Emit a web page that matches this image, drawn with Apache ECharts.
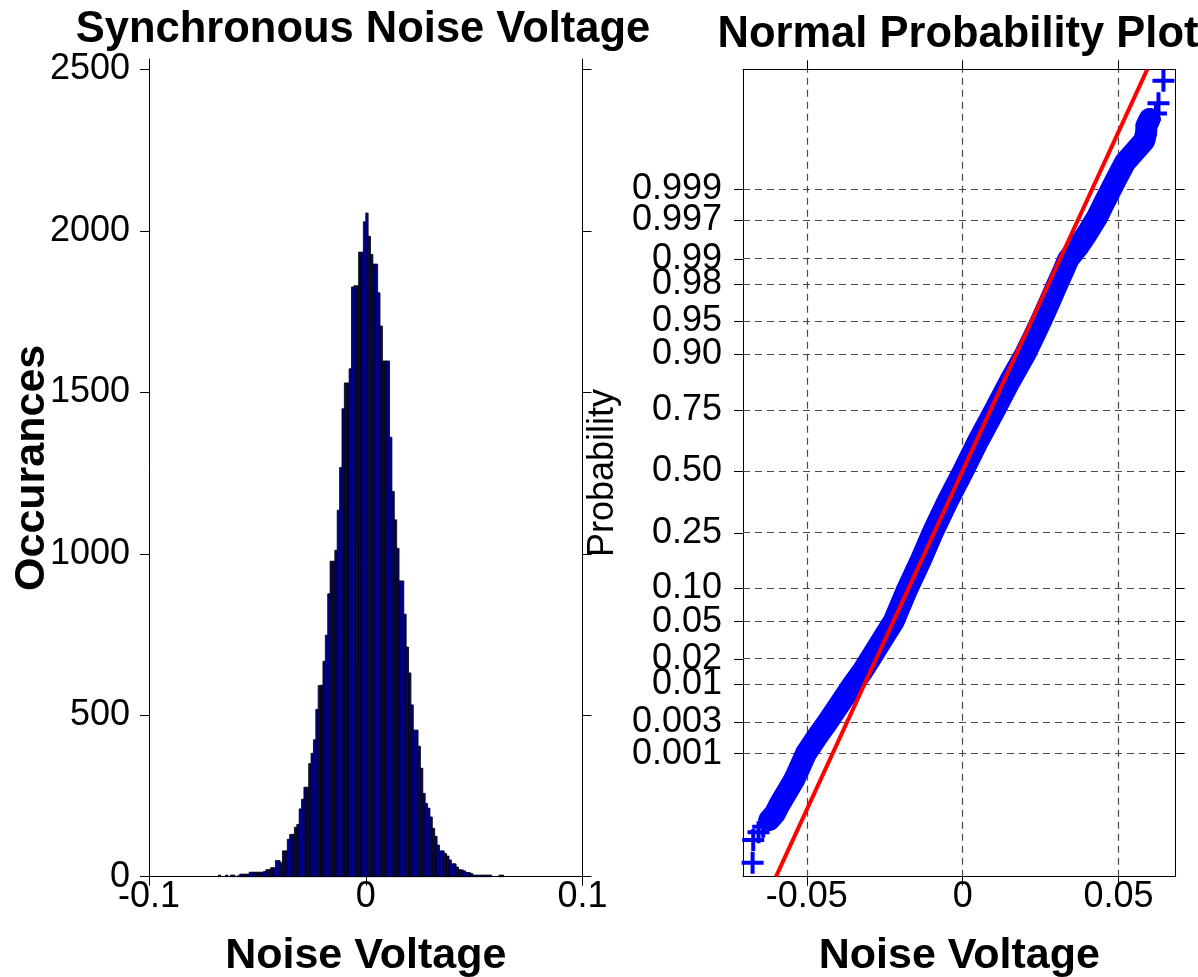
<!DOCTYPE html>
<html>
<head>
<meta charset="utf-8">
<script src="https://cdn.jsdelivr.net/npm/echarts@6/dist/echarts.min.js"></script>
<style>
html,body{margin:0;padding:0;background:#fff;}
#chart{width:1198px;height:977px;}
</style>
</head>
<body>
<div id="chart"></div>
<script>
// ---------------- DATA ----------------
// Histogram of noise voltage: equal-width bins starting at binStart
const binStart = -0.068026;
const binWidth = 0.0010972;
const binCounts = [
  5,0,0,5,0,5,5,0,3,8,
  8,8,8,14,14,14,14,14,14,16,
  22,22,28,28,50,50,44,80,80,116,
  131,131,153,162,210,240,277,277,350,382,
  424,518,592,593,667,748,876,977,977,1011,
  1135,1267,1449,1529,1529,1573,1826,1830,1830,1934,
  1934,2028,2055,1983,1927,1897,1897,1808,1705,1597,
  1597,1597,1361,1193,1105,1017,916,916,813,711,
  631,532,454,454,404,336,258,227,212,185,
  150,125,98,80,80,72,64,52,40,40,
  30,22,21,18,13,13,10,5,5,5,
  5,5,5,5,5,0,0,0,5,5
];
const histXTicks = [-0.1, 0, 0.1];
const histYTicks = [0, 500, 1000, 1500, 2000, 2500];

// Normal probability plot
const probTicks = [0.001, 0.003, 0.01, 0.02, 0.05, 0.10, 0.25, 0.50, 0.75, 0.90, 0.95, 0.98, 0.99, 0.997, 0.999];
const probLabels = ['0.001','0.003','0.01','0.02','0.05','0.10','0.25','0.50','0.75','0.90','0.95','0.98','0.99','0.997','0.999'];
const probXTicks = [-0.05, 0, 0.05];
// sample quantiles (voltage) vs standard normal z-score
const qqVoltage = [
  -0.0674,-0.0672,-0.0655,-0.0640,-0.0620,-0.0602,-0.0588,-0.0573,-0.0557,-0.0541,
  -0.0522,-0.0503,-0.0470,-0.0434,-0.0393,-0.0351,-0.0322,-0.0297,-0.0260,-0.0222,
  -0.0177,-0.0134,-0.0097,-0.0050,0.0001,0.0050,0.0103,0.0150,0.0200,0.0226,
  0.0251,0.0278,0.0304,0.0322,0.0339,0.0371,0.0400,0.0432,0.0455,0.0476,
  0.0497,0.0520,0.0556,0.0582,0.0588,0.0590,0.0600,0.0620,0.0628,0.0644
];
const qqZ = [
  -4.284,-4.035,-3.950,-3.889,-3.815,-3.743,-3.650,-3.561,-3.470,-3.378,
  -3.235,-3.090,-2.920,-2.748,-2.540,-2.326,-2.190,-2.054,-1.850,-1.645,
  -1.282,-0.967,-0.674,-0.337,0.000,0.337,0.674,0.980,1.282,1.465,
  1.645,1.850,2.054,2.190,2.326,2.462,2.610,2.790,2.950,3.090,
  3.230,3.380,3.521,3.620,3.700,3.790,3.860,3.920,4.032,4.279
];
// fitted reference line endpoints (voltage, z)
const refVoltage = [-0.0599, 0.0592];
const refZ = [-4.437, 4.404];

// ---------------- helpers ----------------
function norminv(p){
  const a=[-3.969683028665376e+01,2.209460984245205e+02,-2.759285104469687e+02,1.383577518672690e+02,-3.066479806614716e+01,2.506628277459239e+00];
  const b=[-5.447609879822406e+01,1.615858368580409e+02,-1.556989798598866e+02,6.680131188771972e+01,-1.328068155288572e+01];
  const c=[-7.784894002430293e-03,-3.223964580411365e-01,-2.400758277161838e+00,-2.549671348156174e+00,4.374664141464968e+00,2.938163982698783e+00];
  const d=[7.784695709041462e-03,3.224671290700398e-01,2.445134137142996e+00,3.754408661907416e+00];
  const pl=0.02425, ph=1-pl; let q,r;
  if(p<pl){q=Math.sqrt(-2*Math.log(p));return (((((c[0]*q+c[1])*q+c[2])*q+c[3])*q+c[4])*q+c[5])/((((d[0]*q+d[1])*q+d[2])*q+d[3])*q+1);}
  if(p<=ph){q=p-0.5;r=q*q;return (((((a[0]*r+a[1])*r+a[2])*r+a[3])*r+a[4])*r+a[5])*q/(((((b[0]*r+b[1])*r+b[2])*r+b[3])*r+b[4])*r+1);}
  q=Math.sqrt(-2*Math.log(1-p));return -(((((c[0]*q+c[1])*q+c[2])*q+c[3])*q+c[4])*q+c[5])/((((d[0]*q+d[1])*q+d[2])*q+d[3])*q+1);
}
const probZ = probTicks.map(norminv);
// labels split over two axes so that ECharts' min/max overlap rule hides none of them
const probZInner = probZ.slice(1, probZ.length-1);
const probZOuter = [probZ[0], probZ[probZ.length-1]];
function probLabel(v){
  for(let i=0;i<probZ.length;i++){ if(Math.abs(probZ[i]-v)<1e-6) return probLabels[i]; }
  return '';
}
function plainNum(v){ return String(Math.round(v*1e6)/1e6); }

const histData = [];
binCounts.forEach((cnt,i)=>{ if(cnt>0) histData.push([binStart+i*binWidth, binStart+(i+1)*binWidth, cnt]); });
const qqData = qqVoltage.map((v,i)=>[v, qqZ[i]]);
const refData = refVoltage.map((v,i)=>[v, refZ[i]]);

// ---------------- chart ----------------
const FONT = '"Liberation Sans", Arial, Helvetica, sans-serif';
const BLACK = '#000';
const PLUS = 'path://M9,0h4v9h9v4h-9v9h-4v-9h-9v-4h9z';
const axisLineStyle = {show:true, onZero:false, lineStyle:{color:BLACK, width:1}};
const tickStyle = (vals)=>({show:true, inside:false, length:9, customValues:vals, lineStyle:{color:BLACK, width:1}});
const lblStyle = {color:BLACK, fontSize:36, fontFamily:FONT, hideOverlap:false, showMinLabel:true, showMaxLabel:true};

const chart = echarts.init(document.getElementById('chart'), null, {renderer:'canvas'});
const option = {
  animation:false,
  backgroundColor:'#fff',
  title:[
    {text:'Synchronous Noise Voltage', left:363, top:8, textAlign:'center', padding:0,
     textStyle:{fontSize:43.5, fontWeight:'bold', color:BLACK, fontFamily:FONT}},
    {text:'Normal Probability Plot', left:958, top:13, textAlign:'center', padding:0,
     textStyle:{fontSize:43.5, fontWeight:'bold', color:BLACK, fontFamily:FONT}}
  ],
  grid:[
    {left:149, top:59, width:433.5, height:817.7, containLabel:false, outerBoundsMode:'none'},
    {left:743, top:69.3, width:432.7, height:807.4, containLabel:false, outerBoundsMode:'none'}
  ],
  xAxis:[
    {gridIndex:0, type:'value', min:-0.1, max:0.1, position:'bottom',
     axisLine:axisLineStyle, axisTick:tickStyle(histXTicks),
     axisLabel:Object.assign({}, lblStyle, {margin:2, customValues:histXTicks, formatter:plainNum}),
     splitLine:{show:false},
     name:'Noise Voltage', nameLocation:'middle', nameGap:58, nameMoveOverlap:false,
     nameTextStyle:{fontSize:43, fontWeight:'bold', color:BLACK, fontFamily:FONT}},
    {gridIndex:1, type:'value', min:-0.07048, max:0.06833, position:'bottom',
     axisLine:axisLineStyle, axisTick:tickStyle(probXTicks),
     axisLabel:Object.assign({}, lblStyle, {margin:2, customValues:probXTicks, formatter:plainNum}),
     splitLine:{show:false},
     name:'Noise Voltage', nameLocation:'middle', nameGap:58, nameMoveOverlap:false,
     nameTextStyle:{fontSize:43, fontWeight:'bold', color:BLACK, fontFamily:FONT}},
    {gridIndex:1, type:'value', min:-0.07048, max:0.06833, position:'top',
     axisLine:axisLineStyle, axisTick:tickStyle(probXTicks),
     axisLabel:{show:false}, splitLine:{show:false}}
  ],
  yAxis:[
    {gridIndex:0, type:'value', min:0, max:2532, position:'left',
     axisLine:axisLineStyle, axisTick:tickStyle(histYTicks),
     axisLabel:Object.assign({}, lblStyle, {margin:19, customValues:histYTicks, formatter:plainNum}),
     splitLine:{show:false},
     name:'Occurances', nameLocation:'middle', nameGap:95, nameMoveOverlap:false,
     nameTextStyle:{fontSize:43, fontWeight:'bold', color:BLACK, fontFamily:FONT}},
    {gridIndex:0, type:'value', min:0, max:2532, position:'right',
     axisLine:axisLineStyle, axisTick:tickStyle(histYTicks),
     axisLabel:{show:false}, splitLine:{show:false}},
    {gridIndex:1, type:'value', min:-4.437, max:4.404, position:'left',
     axisLine:axisLineStyle, axisTick:tickStyle(probZ),
     axisLabel:Object.assign({}, lblStyle, {margin:21, customValues:probZInner, formatter:probLabel}),
     splitLine:{show:false},
     name:'Probability', nameLocation:'middle', nameGap:122, nameMoveOverlap:false,
     nameTextStyle:{fontSize:36, fontWeight:'normal', color:BLACK, fontFamily:FONT}},
    {gridIndex:1, type:'value', min:-4.437, max:4.404, position:'right',
     axisLine:axisLineStyle, axisTick:tickStyle(probZ),
     axisLabel:{show:false}, splitLine:{show:false}},
    {gridIndex:1, type:'value', min:-4.437, max:4.404, position:'left', offset:0,
     axisLine:{show:false, onZero:false}, axisTick:{show:false},
     axisLabel:Object.assign({}, lblStyle, {margin:21, customValues:probZOuter, formatter:probLabel}),
     splitLine:{show:false}}
  ],
  series:[
    {type:'custom', name:'hist', xAxisIndex:0, yAxisIndex:0, data:histData,
     encode:{x:[0,1], y:2},
     renderItem:function(params, api){
       const p0 = api.coord([api.value(0), api.value(2)]);
       const p1 = api.coord([api.value(1), 0]);
       return {type:'rect', shape:{x:p0[0], y:p0[1], width:p1[0]-p0[0], height:p1[1]-p0[1]},
               style:{fill:'#00008C', stroke:'#000', lineWidth:0.8}};
     }},
    {type:'line', name:'grid', xAxisIndex:1, yAxisIndex:2, data:[[0,0]], showSymbol:false,
     lineStyle:{opacity:0}, silent:true, z:1,
     markLine:{silent:true, z:1, symbol:['none','none'], label:{show:false},
       lineStyle:{type:[7,5], color:'#4a4a4a', width:1.2},
       emphasis:{disabled:true},
       data: probZ.map(z=>({yAxis:z})).concat(probXTicks.map(x=>({xAxis:x})))}},
    {type:'line', name:'band', xAxisIndex:1, yAxisIndex:2, data:qqData.slice(4, qqData.length-3),
     showSymbol:false, lineStyle:{color:'#0000FF', width:22, cap:'round', join:'round'}, z:3, silent:true},
    {type:'scatter', name:'points', xAxisIndex:1, yAxisIndex:2, data:qqData,
     symbol:PLUS, symbolSize:22, itemStyle:{color:'#0000FF', opacity:1}, z:4, silent:true},
    {type:'line', name:'fit', xAxisIndex:1, yAxisIndex:2, data:refData,
     showSymbol:false, lineStyle:{color:'#FF0000', width:4}, z:5, silent:true}
  ]
};
chart.setOption(option);
</script>
</body>
</html>
